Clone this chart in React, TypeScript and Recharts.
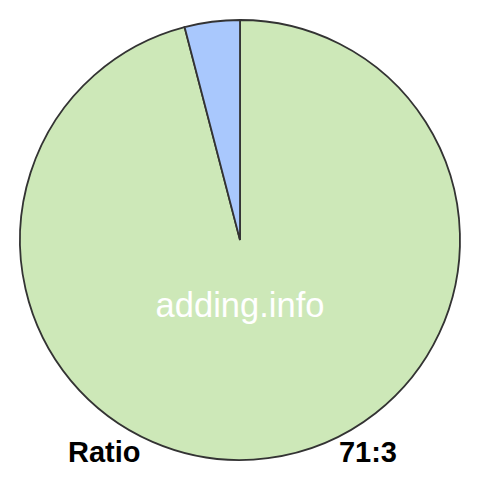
import React from 'react';
import { PieChart, Pie, Cell } from 'recharts';

const labels = ['71', '3'];
const values = [71, 3];
const colors = ['#cde8b8', '#a9c8fd'];

const data = labels.map((name, i) => ({ name, value: values[i] }));

const font = 'Liberation Sans, Arial, sans-serif';

export default function App() {
  return (
    <div style={{ width: 480, height: 480, background: '#fff', position: 'relative' }}>
      <style>{`body{margin:0}`}</style>
      <PieChart width={480} height={480} margin={{ top: 0, right: 0, bottom: 0, left: 0 }}>
        <Pie
          data={data}
          dataKey="value"
          cx={240}
          cy={240}
          outerRadius={220}
          startAngle={90}
          endAngle={-270}
          stroke="#333333"
          strokeWidth={1.8}
          isAnimationActive={false}
        >
          {data.map((d, i) => (
            <Cell key={d.name} fill={colors[i]} />
          ))}
        </Pie>
      </PieChart>
      <svg
        width={480}
        height={480}
        style={{ position: 'absolute', left: 0, top: 0, pointerEvents: 'none' }}
      >
        <text x={240} y={317} textAnchor="middle" fill="#ffffff" fontFamily={font} fontSize={34.5}>
          adding.info
        </text>
        <text x={68} y={462} fill="#000" fontFamily={font} fontWeight="bold" fontSize={29}>
          Ratio
        </text>
        <text x={397} y={462} textAnchor="end" fill="#000" fontFamily={font} fontWeight="bold" fontSize={29}>
          {`${values[0]}:${values[1]}`}
        </text>
      </svg>
    </div>
  );
}
